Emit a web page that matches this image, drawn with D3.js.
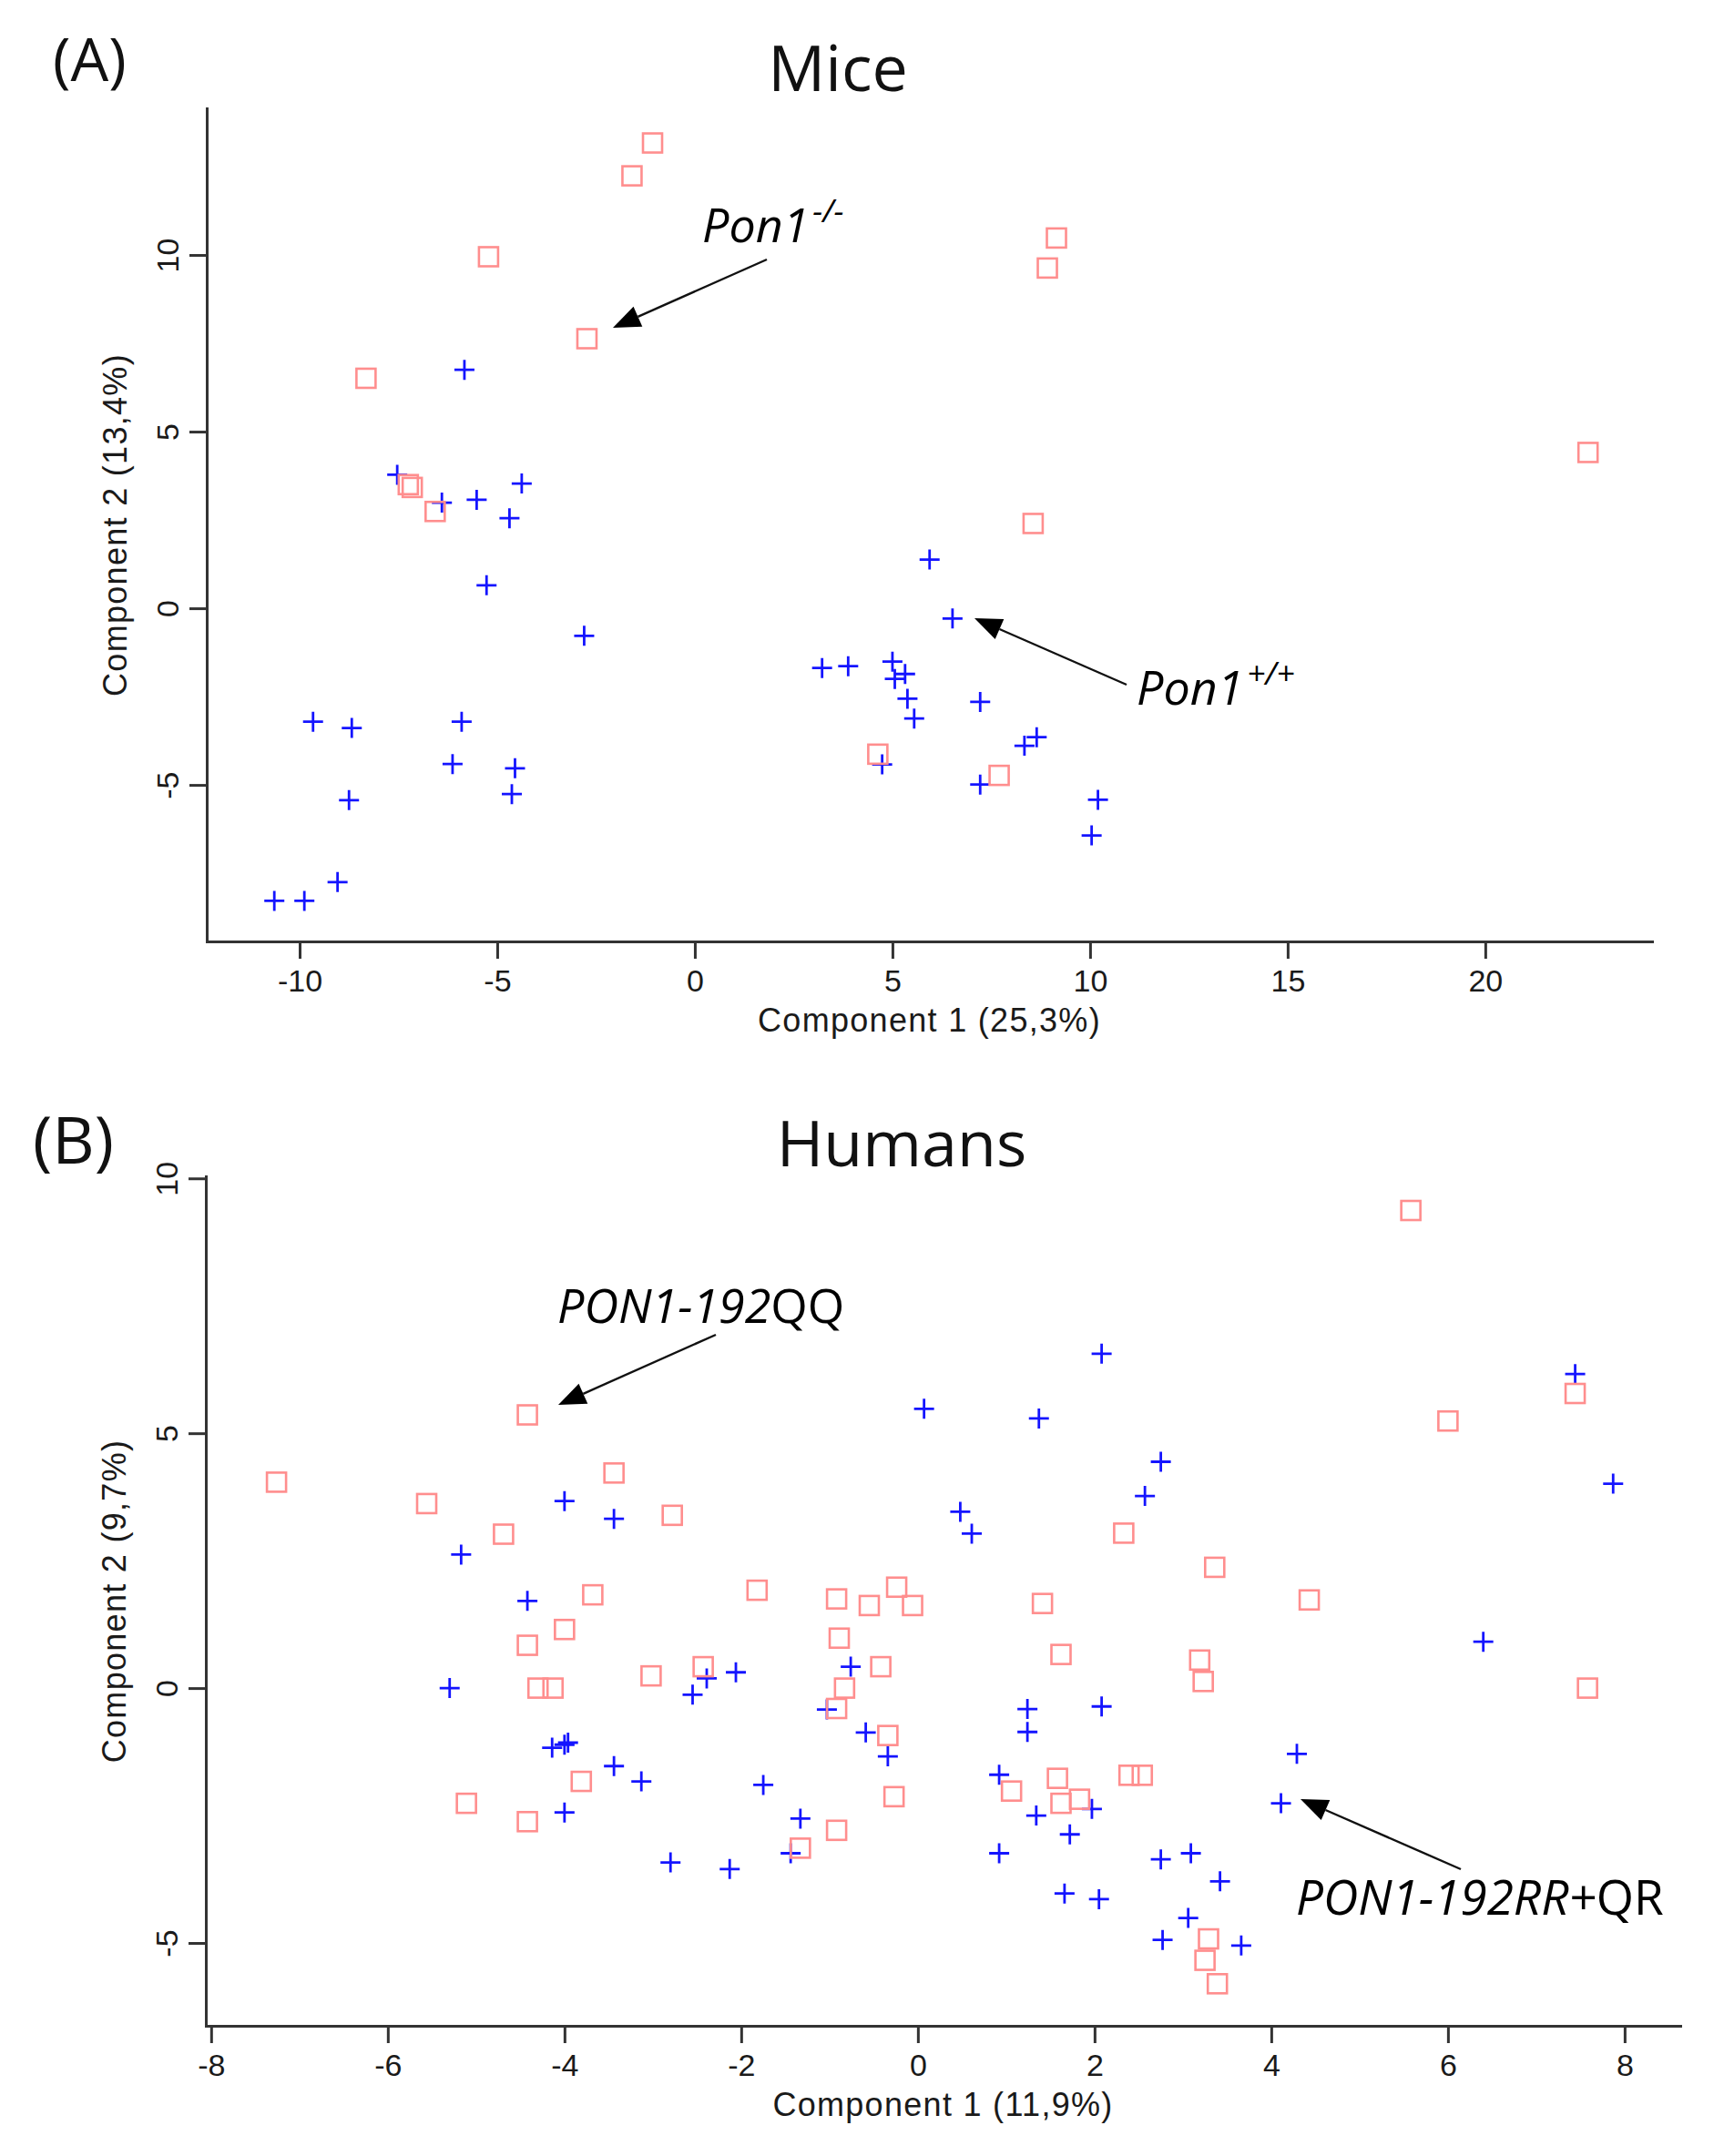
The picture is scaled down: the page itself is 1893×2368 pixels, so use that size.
<!DOCTYPE html>
<html>
<head>
<meta charset="utf-8">
<script src="https://cdn.jsdelivr.net/npm/d3@7"></script>
<style>
  html, body { margin: 0; padding: 0; background: #fff; }
  svg { display: block; }
  .tick text { font-family: "Liberation Sans", Arial, sans-serif; font-size: 34px; fill: #1a1a1a; }
  .axis path, .axis line { stroke: #333; stroke-width: 3px; }
</style>
</head>
<body>
<svg id="chart" width="1893" height="2368"></svg>
<script>
// values: [component 1, component 2]
const miceKO = [
  [-1.07, 13.17], [-1.59, 12.24], [-5.22, 9.95], [-2.73, 7.63], [-8.32, 6.51],
  [-7.25, 3.50], [-7.15, 3.42], [-6.57, 2.74], [9.15, 10.48], [8.92, 9.63],
  [22.6, 4.41], [8.56, 2.40], [4.63, -4.13], [7.70, -4.73]
];
const miceWT = [
  [-5.83, 6.75], [-7.53, 3.78], [-6.40, 2.99], [-5.52, 3.07], [-4.38, 3.53],
  [-4.69, 2.55], [-5.27, 0.65], [-2.80, -0.78], [-9.66, -3.21], [-8.68, -3.39],
  [-5.90, -3.21], [-6.13, -4.41], [-4.55, -4.53], [-4.63, -5.26], [-8.75, -5.43],
  [-9.04, -7.75], [-10.64, -8.28], [-9.88, -8.28], [5.94, 1.38], [6.52, -0.29],
  [3.22, -1.69], [3.88, -1.64], [5.00, -1.51], [5.32, -1.86], [5.06, -2.00],
  [5.38, -2.56], [5.55, -3.12], [7.22, -2.65], [8.65, -3.65], [8.34, -3.89],
  [4.74, -4.42], [7.22, -4.99], [10.20, -5.42], [10.04, -6.43]
];
const humanQQ = [
  [-4.42, 5.36], [-7.26, 4.04], [-5.56, 3.62], [-3.44, 4.22], [-2.78, 3.39],
  [-4.69, 3.02], [-3.68, 1.83], [-4.00, 1.15], [-4.42, 0.84], [-3.02, 0.24],
  [-4.30, 0.00], [-4.13, 0.00], [-3.81, -1.83], [-5.11, -2.26], [-4.42, -2.62],
  [-2.43, 0.42], [-1.82, 1.92], [-0.92, 1.75], [-0.55, 1.62], [-0.24, 1.98],
  [-0.06, 1.62], [-0.89, 0.98], [-0.42, 0.42], [-0.83, 0.00], [-0.92, -0.40],
  [-0.34, -0.93], [-0.27, -2.13], [-0.92, -2.79], [-1.33, -3.14], [1.41, 1.66],
  [1.62, 0.66], [2.33, 3.04], [3.36, 2.37], [4.43, 1.73], [3.19, 0.55],
  [3.23, 0.13], [1.58, -1.77], [2.39, -1.71], [2.54, -1.71], [1.06, -2.02],
  [1.62, -2.26], [1.83, -2.18], [3.29, -4.92], [3.25, -5.34], [3.39, -5.80],
  [5.58, 9.37], [6.00, 5.24], [7.44, 5.78], [7.58, 0.00]
];
const humanRRQR = [
  [-5.17, 2.62], [-4.00, 3.67], [-3.44, 3.32], [-4.42, 1.71], [-5.30, 0.00],
  [-4.14, -1.17], [-4.00, -1.11], [-3.96, -1.07], [-3.44, -1.53], [-3.13, -1.83],
  [-4.00, -2.44], [-2.80, -3.42], [-2.13, -3.55], [-1.75, -1.90], [-1.33, -2.56],
  [-1.44, -3.24], [-2.55, -0.13], [-2.39, 0.19], [-2.06, 0.31], [-0.76, 0.42],
  [-1.03, -0.42], [-0.59, -0.87], [-0.34, -1.34], [0.07, 5.48], [0.48, 3.46],
  [0.61, 3.03], [1.37, 5.29], [2.08, 6.56], [2.75, 4.44], [2.57, 3.77],
  [1.24, -0.41], [2.08, -0.36], [1.24, -0.86], [0.92, -1.70], [1.97, -2.37],
  [1.34, -2.50], [1.72, -2.87], [0.92, -3.24], [1.66, -4.03], [2.05, -4.14],
  [2.75, -3.36], [3.09, -3.24], [3.42, -3.79], [3.06, -4.51], [2.77, -4.94],
  [3.66, -5.05], [4.29, -1.29], [4.11, -2.26], [6.40, 0.91], [7.44, 6.16],
  [7.87, 4.01]
];

const miceXTicks = [-10, -5, 0, 5, 10, 15, 20];
const miceYTicks = [-5, 0, 5, 10];
const humanXTicks = [-8, -6, -4, -2, 0, 2, 4, 6, 8];
const humanYTicks = [-5, 0, 5, 10];

const svg = d3.select('#chart');
const titleFont = '"Open Sans", "Noto Sans", sans-serif';
const axisFont = '"Liberation Sans", Arial, sans-serif';
// plain hyphen for negatives, as in the original
const tickFmt = d => String(d);

// panel layout (pixels) and the data drawn in each
const panels = [
  {
    label: '(A)', labelX: 58, labelY: 89, labelSize: 66,
    title: 'Mice', titleX: 920, titleY: 100,
    left: 227, right: 1814, top: 119, bottom: 1034,
    xDomain: [-12.35, 24.22], yDomain: [-9.43, 14.15],
    xTicks: miceXTicks, yTicks: miceYTicks,
    xTitle: 'Component 1 (25,3%)', yTitle: 'Component 2 (13,4%)',
    squares: miceKO, pluses: miceWT
  },
  {
    label: '(B)', labelX: 36, labelY: 1278, labelSize: 72,
    title: 'Humans', titleX: 990, titleY: 1281,
    left: 226, right: 1845, top: 1292, bottom: 2225,
    xDomain: [-8.06, 8.63], yDomain: [-6.625, 10.04],
    xTicks: humanXTicks, yTicks: humanYTicks,
    xTitle: 'Component 1 (11,9%)', yTitle: 'Component 2 (9,7%)',
    squares: humanQQ, pluses: humanRRQR
  }
];

panels.forEach(p => {
  const x = d3.scaleLinear().domain(p.xDomain).range([p.left, p.right]);
  const y = d3.scaleLinear().domain(p.yDomain).range([p.bottom, p.top]);

  // L-shaped frame with outward ticks, like R's bty="l"
  svg.append('g')
    .attr('class', 'axis')
    .attr('transform', 'translate(0,' + p.bottom + ')')
    .call(d3.axisBottom(x).tickValues(p.xTicks).tickFormat(tickFmt)
      .tickSize(19).tickSizeOuter(0).tickPadding(12));

  const yAxis = svg.append('g')
    .attr('class', 'axis')
    .attr('transform', 'translate(' + p.left + ',0)')
    .call(d3.axisLeft(y).tickValues(p.yTicks).tickFormat(tickFmt)
      .tickSize(19).tickSizeOuter(0));
  // R prints the y tick labels parallel to the axis
  yAxis.selectAll('.tick text')
    .attr('x', null).attr('dy', null)
    .attr('text-anchor', 'middle')
    .attr('transform', 'translate(-31,0) rotate(-90)');
  svg.selectAll('.axis .domain').attr('stroke-linecap', 'square');

  svg.append('text')
    .attr('x', (p.left + p.right) / 2).attr('y', p.bottom + 99)
    .attr('text-anchor', 'middle')
    .style('font-family', axisFont).style('font-size', '36px')
    .style('letter-spacing', '1.3px').style('fill', '#1a1a1a')
    .text(p.xTitle);

  svg.append('text')
    .attr('transform', 'translate(' + (p.left - 88) + ',' + ((p.top + p.bottom) / 2) + ') rotate(-90)')
    .attr('text-anchor', 'middle')
    .style('font-family', axisFont).style('font-size', '36px')
    .style('letter-spacing', '1.3px').style('fill', '#1a1a1a')
    .text(p.yTitle);

  svg.append('text')
    .attr('x', p.titleX).attr('y', p.titleY)
    .attr('text-anchor', 'middle')
    .style('font-family', titleFont).style('font-size', '70px').style('fill', '#111')
    .text(p.title);

  svg.append('text')
    .attr('x', p.labelX).attr('y', p.labelY)
    .style('font-family', titleFont).style('font-size', p.labelSize + 'px').style('fill', '#111')
    .text(p.label);

  // blue plus signs
  svg.append('g').selectAll('path')
    .data(p.pluses)
    .enter()
    .append('path')
      .attr('d', 'M-11,0H11M0,-11V11')
      .attr('transform', d => 'translate(' + x(d[0]) + ',' + y(d[1]) + ')')
      .attr('stroke', '#1414ff')
      .attr('stroke-width', 2.8)
      .attr('fill', 'none');

  // pink open squares
  svg.append('g').selectAll('rect')
    .data(p.squares)
    .enter()
    .append('rect')
      .attr('x', d => x(d[0]) - 10.5)
      .attr('y', d => y(d[1]) - 10.5)
      .attr('width', 21)
      .attr('height', 21)
      .attr('stroke', '#ff8e8e')
      .attr('stroke-width', 2.6)
      .attr('fill', 'none');
});

// annotation arrows: line plus filled head at the tip
function arrow(x1, y1, x2, y2) {
  const a = Math.atan2(y2 - y1, x2 - x1);
  const len = 30, half = 12;
  const bx = x2 - len * Math.cos(a), by = y2 - len * Math.sin(a);
  svg.append('line')
    .attr('x1', x1).attr('y1', y1).attr('x2', bx).attr('y2', by)
    .attr('stroke', '#111').attr('stroke-width', 2.4);
  svg.append('path')
    .attr('d', 'M' + x2 + ',' + y2 +
      'L' + (bx + half * Math.sin(a)) + ',' + (by - half * Math.cos(a)) +
      'L' + (bx - half * Math.sin(a)) + ',' + (by + half * Math.cos(a)) + 'Z')
    .attr('fill', '#000');
}

function note(xp, yp, size, italicPart, plainPart, sup) {
  const t = svg.append('text')
    .attr('x', xp).attr('y', yp)
    .style('font-family', titleFont).style('font-size', size + 'px').style('fill', '#000');
  t.append('tspan').style('font-style', 'italic').text(italicPart);
  if (plainPart) t.append('tspan').text(plainPart);
  if (sup) {
    t.append('tspan')
      .attr('dx', 4)
      .attr('dy', -22)
      .style('font-style', 'italic')
      .style('font-size', '35px')
      .text(sup);
  }
}

arrow(842, 285, 673, 360);
note(771, 266, 52, 'Pon1', null, '-/-');

arrow(1237, 752, 1070, 679);
note(1248, 774, 52, 'Pon1', null, '+/+');

arrow(786, 1466, 613, 1543);
note(612, 1453, 52, 'PON1-192', 'QQ');

arrow(1604, 2053, 1428, 1976);
note(1423, 2103, 53, 'PON1-192RR+', 'QR');
</script>
</body>
</html>
